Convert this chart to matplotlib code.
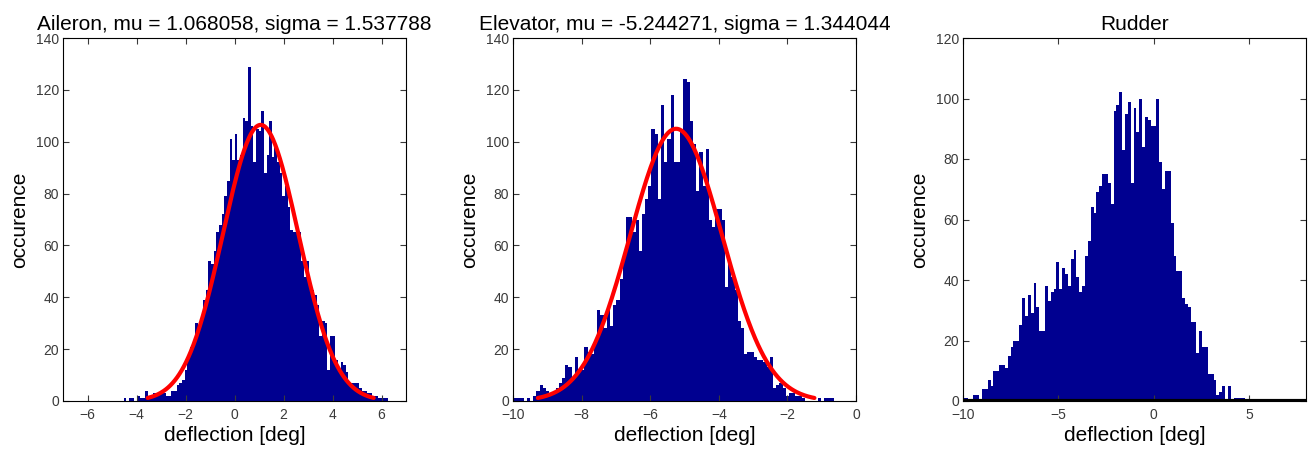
import numpy as np
import matplotlib
matplotlib.use("Agg")
import matplotlib.pyplot as plt

plt.rcParams['font.family'] = ['Liberation Sans', 'DejaVu Sans']

# --- data (100 bins per histogram) ---
aileron_counts = [
    1, 0, 1, 1, 0, 2, 1, 1, 4, 2,
    2, 3, 3, 3, 4, 3, 2, 2, 4, 4,
    6, 7, 8, 12, 17, 21, 22, 30, 28, 31,
    39, 43, 54, 53, 58, 65, 68, 72, 79, 85,
    101, 93, 103, 93, 95, 109, 108, 129, 106, 92,
    105, 104, 112, 88, 95, 108, 94, 98, 92, 88,
    79, 83, 75, 66, 65, 65, 65, 54, 48, 54,
    45, 43, 41, 37, 25, 31, 30, 12, 25, 25,
    16, 12, 15, 14, 11, 7, 7, 7, 7, 5,
    4, 4, 3, 3, 2, 2, 1, 1, 1, 1,
]
aileron_range = (-4.52, 6.27)
aileron_fit = (1.068058, 1.537788, 106.5)   # mu, sigma, curve peak

elevator_counts = [
    1, 1, 1, 0, 1, 0, 2, 4, 6, 5,
    4, 3, 3, 5, 7, 9, 14, 13, 9, 17,
    12, 12, 21, 19, 18, 22, 35, 33, 28, 36,
    29, 37, 39, 47, 56, 71, 71, 65, 70, 58,
    72, 78, 83, 105, 103, 78, 114, 92, 101, 118,
    92, 92, 105, 124, 123, 108, 99, 81, 96, 83,
    97, 70, 67, 74, 74, 70, 44, 53, 48, 43,
    31, 28, 18, 19, 19, 17, 16, 16, 15, 13,
    17, 5, 6, 7, 5, 2, 3, 3, 2, 2,
    1, 0, 0, 0, 0, 1, 0, 1, 1, 1,
]
elevator_range = (-9.97, -0.65)
elevator_fit = (-5.244271, 1.344044, 105.0)

rudder_counts = [
    1, 1, 0, 0, 2, 2, 0, 4, 4, 7,
    5, 10, 10, 12, 12, 11, 15, 18, 20, 20,
    25, 34, 28, 35, 29, 39, 31, 23, 23, 38,
    33, 36, 37, 46, 37, 44, 42, 38, 47, 50,
    41, 36, 38, 48, 53, 64, 62, 69, 71, 75,
    75, 72, 65, 96, 98, 102, 83, 95, 99, 72,
    97, 89, 100, 84, 94, 93, 91, 91, 100, 79,
    70, 76, 76, 59, 48, 43, 43, 34, 32, 31,
    26, 26, 16, 23, 18, 18, 9, 9, 7, 2,
    3, 5, 0, 5, 0, 1, 1, 1, 1, 0,
]
rudder_range = (-10.05, 4.95)

titles = [
    'Aileron, mu = 1.068058, sigma = 1.537788',
    'Elevator, mu = -5.244271, sigma = 1.344044',
    'Rudder',
]
xlims = [(-7, 7), (-10, 0), (-10, 8)]
xticks = [np.arange(-6, 7, 2), np.arange(-10, 1, 2), np.arange(-10, 9, 5)]
ylims = [(0, 140), (0, 140), (0, 120)]
yticks = [np.arange(0, 141, 20), np.arange(0, 141, 20), np.arange(0, 121, 20)]

BAR_COLOR = '#000090'
TICK_COLOR = '#3a3a3a'

fig = plt.figure(figsize=(13.09, 4.51), dpi=100)
lefts = [63, 513, 963]
axes = [fig.add_axes([l / 1309, 1 - 401 / 451, 343 / 1309, 363 / 451]) for l in lefts]

hists = [
    (aileron_counts, aileron_range, aileron_fit),
    (elevator_counts, elevator_range, elevator_fit),
    (rudder_counts, rudder_range, None),
]

for k, (ax, (counts, rng, fit)) in enumerate(zip(axes, hists)):
    counts = np.asarray(counts)
    edges = np.linspace(rng[0], rng[1], len(counts) + 1)
    ax.stairs(counts, edges, fill=True, color=BAR_COLOR, linewidth=0)

    if fit is not None:
        mu, sigma, peak = fit
        xs = np.linspace(mu - 3 * sigma, mu + 3 * sigma, 300)
        ax.plot(xs, peak * np.exp(-(xs - mu) ** 2 / (2 * sigma ** 2)),
                color='red', linewidth=3, solid_capstyle='round')
    else:
        # thick black baseline on the rudder plot
        ax.axhline(0, color='black', linewidth=3)

    ax.set_xlim(*xlims[k])
    ax.set_ylim(*ylims[k])
    ax.set_xticks(xticks[k])
    ax.set_yticks(yticks[k])
    ax.tick_params(direction='in', top=True, right=True, length=4,
                   labelsize=10, labelcolor=TICK_COLOR, color=TICK_COLOR)
    ax.tick_params(axis='x', pad=5)
    ax.tick_params(axis='y', pad=3)
    for sp in ax.spines.values():
        sp.set_linewidth(0.8)
    ax.set_title(titles[k], fontsize=15, pad=6)
    ax.set_xlabel('deflection [deg]', fontsize=15, labelpad=3)
    ax.set_ylabel('occurence', fontsize=15, labelpad=5)

fig.savefig('out.png', dpi=100)
